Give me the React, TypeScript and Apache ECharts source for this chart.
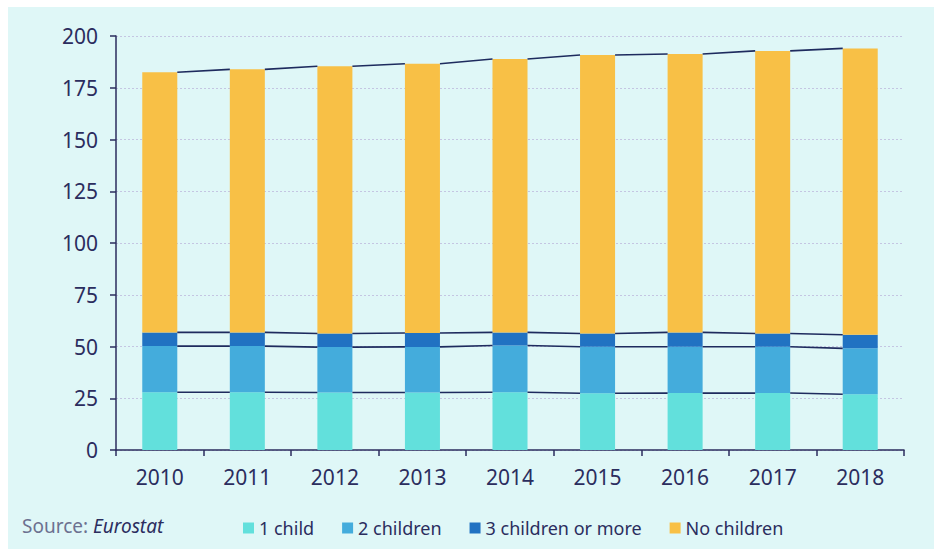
import React, { useEffect, useRef } from "react";
import * as echarts from "echarts";

const years = ["2010", "2011", "2012", "2013", "2014", "2015", "2016", "2017", "2018"];
const oneChild = [27.9, 27.9, 27.8, 27.8, 27.9, 27.4, 27.5, 27.5, 26.9];
const twoChildren = [22.3, 22.3, 21.9, 22.0, 22.6, 22.5, 22.4, 22.4, 22.2];
const threeOrMore = [6.6, 6.6, 6.6, 6.7, 6.3, 6.4, 6.9, 6.4, 6.6];
const noChildren = [125.7, 127.1, 129.1, 130.1, 132.1, 134.5, 134.5, 136.5, 138.3];
const seriesNames = ["1 child", "2 children", "3 children or more", "No children"];
const yTicks = { min: 0, max: 200, interval: 25 };

const COLORS = ["#62e0dc", "#44acdc", "#2172c2", "#f8c046"];
const TEXT = "#2b2d5e";
const FONT = "'Noto Sans', sans-serif";

export default function App() {
  const ref = useRef<HTMLDivElement>(null);
  useEffect(() => {
    if (!ref.current) return;
    const chart = echarts.init(ref.current, undefined, { renderer: "svg" });
    const stacks = [oneChild, twoChildren, threeOrMore, noChildren];
    const cumulative: number[][] = [];
    stacks.forEach((arr, k) => {
      cumulative.push(arr.map((v, i) => v + (k > 0 ? cumulative[k - 1][i] : 0)));
    });
    const barSeries = stacks.map((arr, k) => ({
      name: seriesNames[k],
      type: "bar",
      stack: "total",
      barWidth: "40%",
      data: arr,
      itemStyle: { color: COLORS[k] },
      emphasis: { disabled: true },
    }));
    const option: any = {
      animation: false,
      backgroundColor: "#dff7f7",
      textStyle: { fontFamily: FONT },
      grid: { left: 108, top: 29, right: 30, bottom: 99, containLabel: false },
      legend: {
        data: seriesNames,
        left: 230,
        top: 507,
        icon: "rect",
        itemWidth: 11,
        itemHeight: 11,
        itemGap: 28,
        textStyle: { color: TEXT, fontSize: 18, fontFamily: FONT },
        selectedMode: false,
      },
      graphic: [
        {
          type: "text",
          left: 14,
          top: 509,
          style: {
            text: "{a|Source: }{b|Eurostat}",
            rich: {
              a: { fontSize: 19, fill: "#6c7190", fontFamily: FONT },
              b: { fontSize: 19, fill: TEXT, fontStyle: "italic", fontFamily: FONT },
            },
          },
        },
      ],
      xAxis: {
        type: "category",
        data: years,
        boundaryGap: true,
        axisLine: { lineStyle: { color: TEXT, width: 1.5 } },
        axisTick: { show: true, length: 6, alignWithLabel: false, lineStyle: { color: TEXT, width: 1.5 } },
        axisLabel: { color: TEXT, fontSize: 21, margin: 16, fontFamily: FONT },
      },
      yAxis: {
        type: "value",
        min: yTicks.min,
        max: yTicks.max,
        interval: yTicks.interval,
        axisLine: { show: true, lineStyle: { color: TEXT, width: 1.5 } },
        axisTick: { show: true, length: 6, lineStyle: { color: TEXT, width: 1.5 } },
        axisLabel: { color: TEXT, fontSize: 21, margin: 18, fontFamily: FONT },
        splitLine: { show: true, lineStyle: { color: "#c4c6e2", type: [2, 2], width: 1 } },
      },
      series: [
        ...barSeries,
        {
          type: "custom",
          name: "connectors",
          z: 5,
          silent: true,
          data: years.slice(0, -1).map((_, i) => [i]),
          renderItem: (params: any, api: any) => {
            const i = params.dataIndex;
            const half = (api.size([1, 0])[0] * 0.4) / 2;
            const children = cumulative.map((cum) => {
              const p1 = api.coord([i, cum[i]]);
              const p2 = api.coord([i + 1, cum[i + 1]]);
              return {
                type: "line",
                shape: { x1: p1[0] + half, y1: p1[1], x2: p2[0] - half, y2: p2[1] },
                style: { stroke: "#1e2b5e", lineWidth: 1.6 },
              };
            });
            return { type: "group", children };
          },
        },
      ],
    };
    chart.setOption(option);
    return () => chart.dispose();
  }, []);
  return (
    <div
      ref={ref}
      style={{ position: "fixed", left: 8, top: 7, width: 926, height: 542 }}
    />
  );
}
